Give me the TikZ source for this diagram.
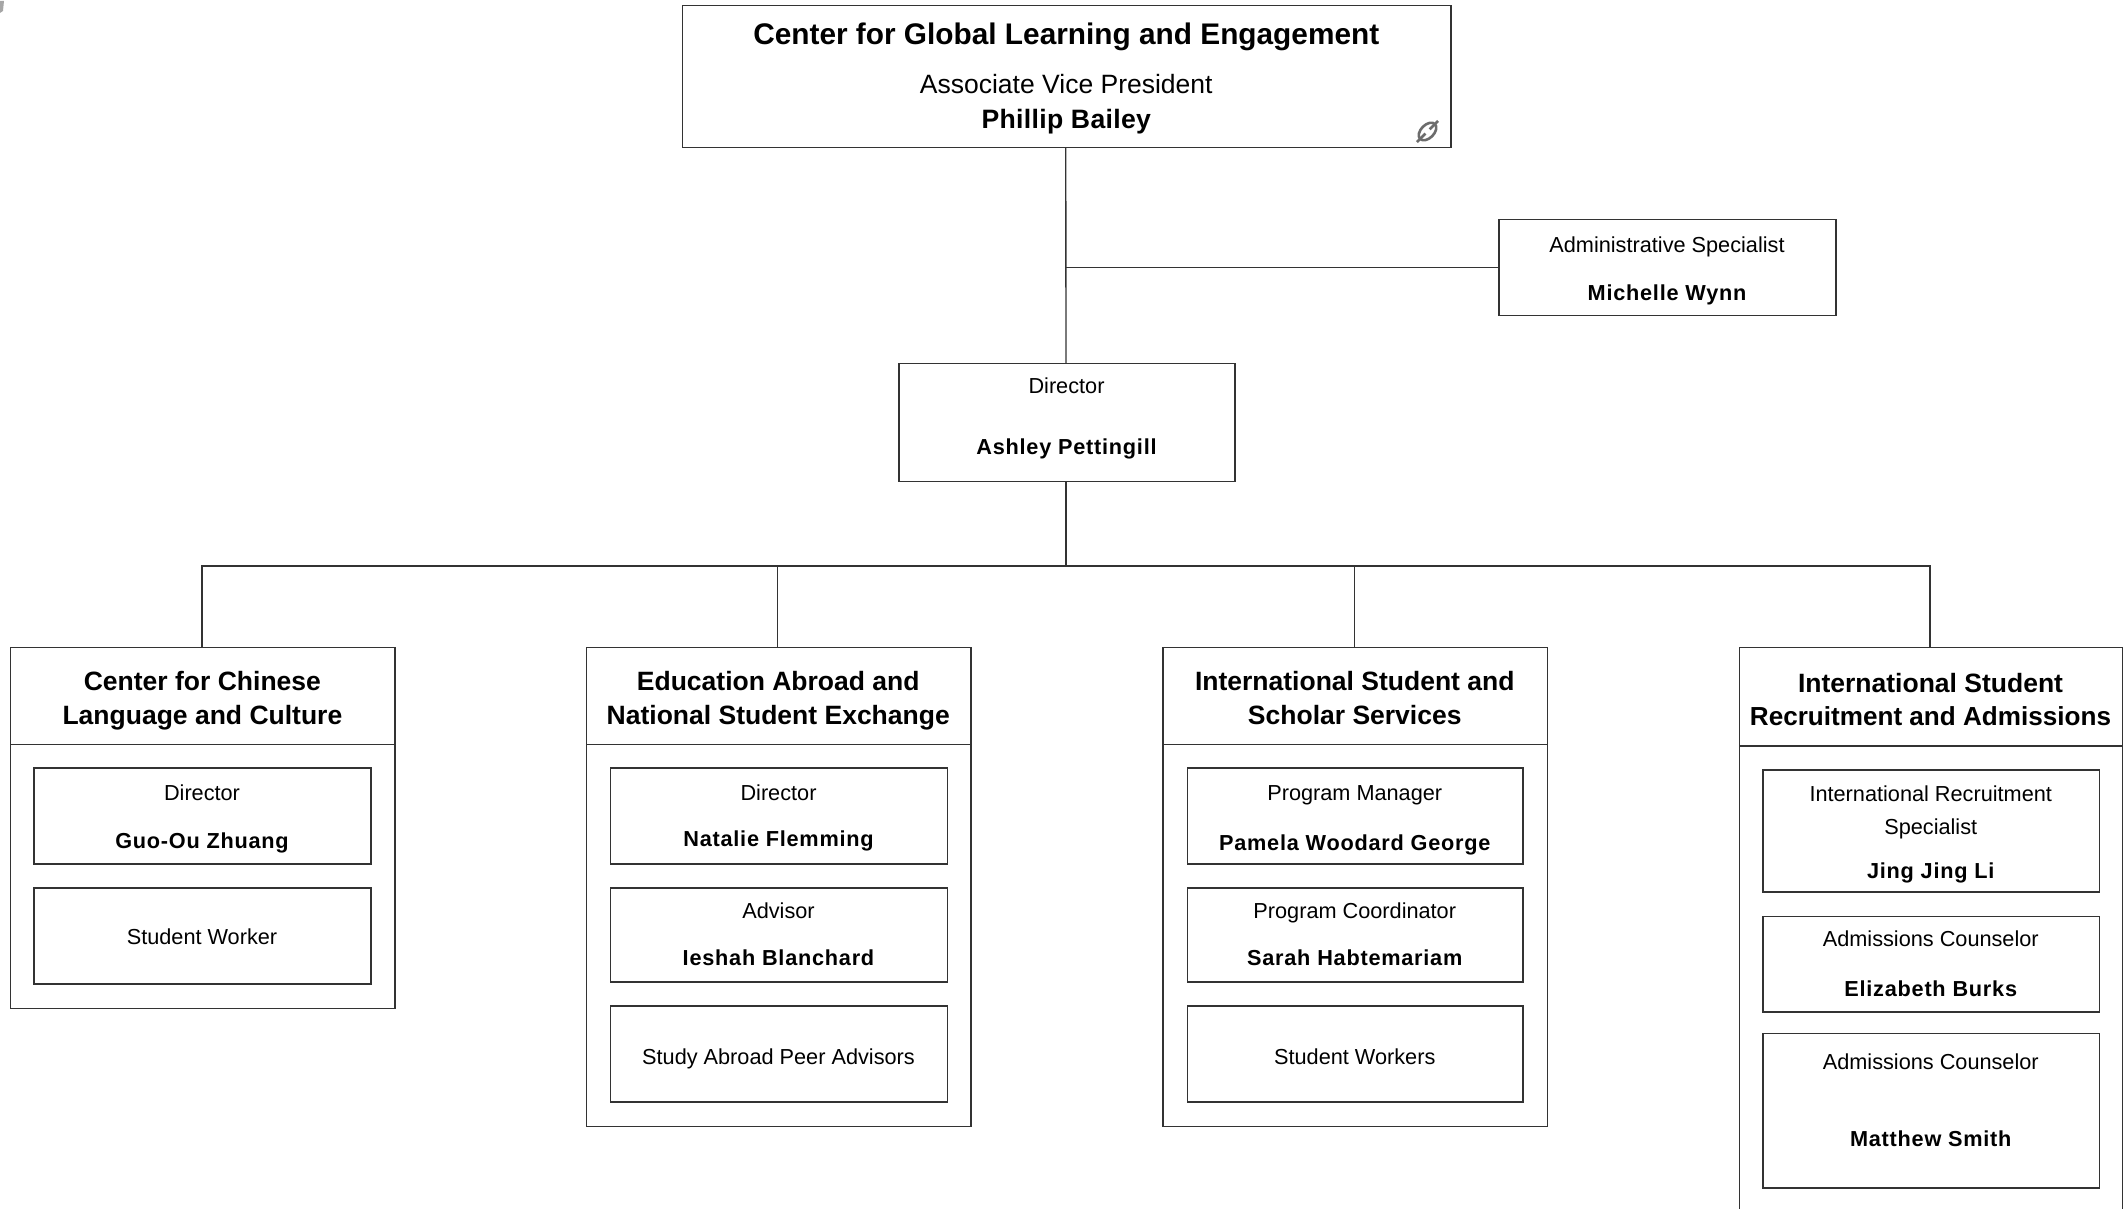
\documentclass[tikz,border=0pt]{standalone}
\usepackage{fontspec}
\setmainfont{Liberation Sans}
\newfontfamily\nmfont[LetterSpace=3.5]{Liberation Sans Bold}
\newfontfamily\phfont[LetterSpace=1.2]{Liberation Sans Bold}
\definecolor{edgeink}{gray}{0.2}
\newcommand\nm[1]{\fontsize{21.7}{25}\nmfont #1}
\tikzset{
  orgcell/.style={draw=edgeink,line width=1.35pt,fill=none,rectangle,inner sep=0pt,outer sep=0pt,text=black,font=\fontsize{21.7}{25}\selectfont},
  wire/.style={draw=edgeink,line width=1.35pt},
  hdr/.style={font=\fontsize{26.5}{30}\selectfont\bfseries}
}
\newcommand\orgbox[7][]{%
  \pgfmathsetmacro\bx{(#3+#5)/2}\pgfmathsetmacro\by{(#4+#6)/2}%
  \pgfmathsetmacro\bw{#5-#3}\pgfmathsetmacro\bh{#6-#4}%
  \node[orgcell,#1,minimum width=\bw pt,minimum height=\bh pt] (#2) at (\bx,\by) {#7};}
\newcommand\bl[2]{\pgfmathsetmacro\off{\by-#1}\kern-0.5pt\makebox[0pt]{\smash{\raisebox{\off pt}{#2}}}\kern0.5pt}
\begin{document}
\begin{tikzpicture}[x=1pt,y=-1pt]
\useasboundingbox (0,0) rectangle (2123,1209);
\clip (0,0) rectangle (2123,1209);
\fill[gray!70] (0,1) -- (4,1) -- (3,11) -- (0,13) -- cycle;

\orgbox{top}{682.5}{5.5}{1451}{147.5}{\bl{44.7}{\fontsize{29.8}{30}\selectfont\bfseries Center for Global Learning and Engagement}\bl{94}{\fontsize{26.5}{30}\selectfont Associate Vice President}\bl{128.6}{\fontsize{26.6}{30}\phfont Phillip Bailey}}
\orgbox{admin}{1499}{219.5}{1836}{315.5}{\bl{252}{Administrative Specialist}\bl{300.6}{\nm{Michelle Wynn}}}
\orgbox{dir}{899}{363.5}{1235}{481.5}{\bl{393.5}{Director}\bl{454.2}{\nm{Ashley Pettingill}}}

% broken-link icon
\begin{scope}[shift={(1427.5,131.5)},rotate=45,draw=gray!85!black,line width=2.6pt]
  \draw (0,0) ellipse [x radius=10.5,y radius=6.6];
  \draw (-15,0) -- (-3,0);
  \draw (3,0) -- (15,0);
\end{scope}

% group 1
\orgbox{g1}{10.8}{647.5}{395}{1008.5}{}
\orgbox[hdr]{h1}{10.8}{647.5}{395}{744.5}{\bl{690}{Center for Chinese}\bl{724}{Language and Culture}}
\orgbox{g1a}{34}{768}{371}{864}{\bl{800}{Director}\bl{848}{\nm{Guo-Ou Zhuang}}}
\orgbox{g1b}{34}{888}{371}{984}{\bl{944}{Student Worker}}
% group 2
\orgbox{g2}{586.5}{647.5}{971}{1126.5}{}
\orgbox[hdr]{h2}{586.5}{647.5}{971}{744.5}{\bl{690}{Education Abroad and}\bl{724}{National Student Exchange}}
\orgbox{g2a}{610.5}{768}{947.5}{864}{\bl{800}{Director}\bl{846}{\nm{Natalie Flemming}}}
\orgbox{g2b}{610.5}{888}{947.5}{982}{\bl{918}{Advisor}\bl{965.5}{\nm{Ieshah Blanchard}}}
\orgbox{g2c}{610.5}{1006}{947.5}{1102}{\bl{1064}{Study Abroad Peer Advisors}}
% group 3
\orgbox{g3}{1163}{647.5}{1547.5}{1126.5}{}
\orgbox[hdr]{h3}{1163}{647.5}{1547.5}{744.5}{\bl{690}{International Student and}\bl{724}{Scholar Services}}
\orgbox{g3a}{1187.5}{768}{1523}{864}{\bl{800}{Program Manager}\bl{850}{\nm{Pamela Woodard George}}}
\orgbox{g3b}{1187.5}{888}{1523}{982}{\bl{918}{Program Coordinator}\bl{965}{\nm{Sarah Habtemariam}}}
\orgbox{g3c}{1187.5}{1006}{1523}{1102}{\bl{1064}{Student Workers}}
% group 4
\orgbox{g4}{1739.5}{647.5}{2122.5}{1240}{}
\orgbox[hdr]{h4}{1739.5}{647.5}{2122.5}{746}{\bl{692}{International Student}\bl{725}{\fontsize{26.1}{30}\selectfont Recruitment and Admissions}}
\orgbox{g4a}{1763}{770}{2099.5}{892}{\bl{801.5}{International Recruitment}\bl{834}{Specialist}\bl{878.7}{\nm{Jing Jing Li}}}
\orgbox{g4b}{1763}{916.5}{2099.5}{1012}{\bl{946.5}{Admissions Counselor}\bl{996.5}{\nm{Elizabeth Burks}}}
\orgbox{g4c}{1763}{1033.5}{2099.5}{1188}{\bl{1069.6}{Admissions Counselor}\bl{1146.5}{\nm{Matthew Smith}}}

% connectors
\coordinate (bus) at ([xshift=-1pt]dir.south |- 0,566);
\draw[wire] ([xshift=-1pt]top.south) -- ([xshift=-1pt]dir.north);
\draw[wire] (admin.west) -- ([xshift=-1pt]admin.west -| top.south);
\draw[wire] ([xshift=-1pt]dir.south) -- (bus);
\draw[wire] ([xshift=-1pt]h1.north) |- (bus);
\draw[wire] ([xshift=-1pt]h2.north) |- (bus);
\draw[wire] ([xshift=-1pt]h3.north) |- (bus);
\draw[wire] ([xshift=-1pt]h4.north) |- (bus);
\end{tikzpicture}
\end{document}
